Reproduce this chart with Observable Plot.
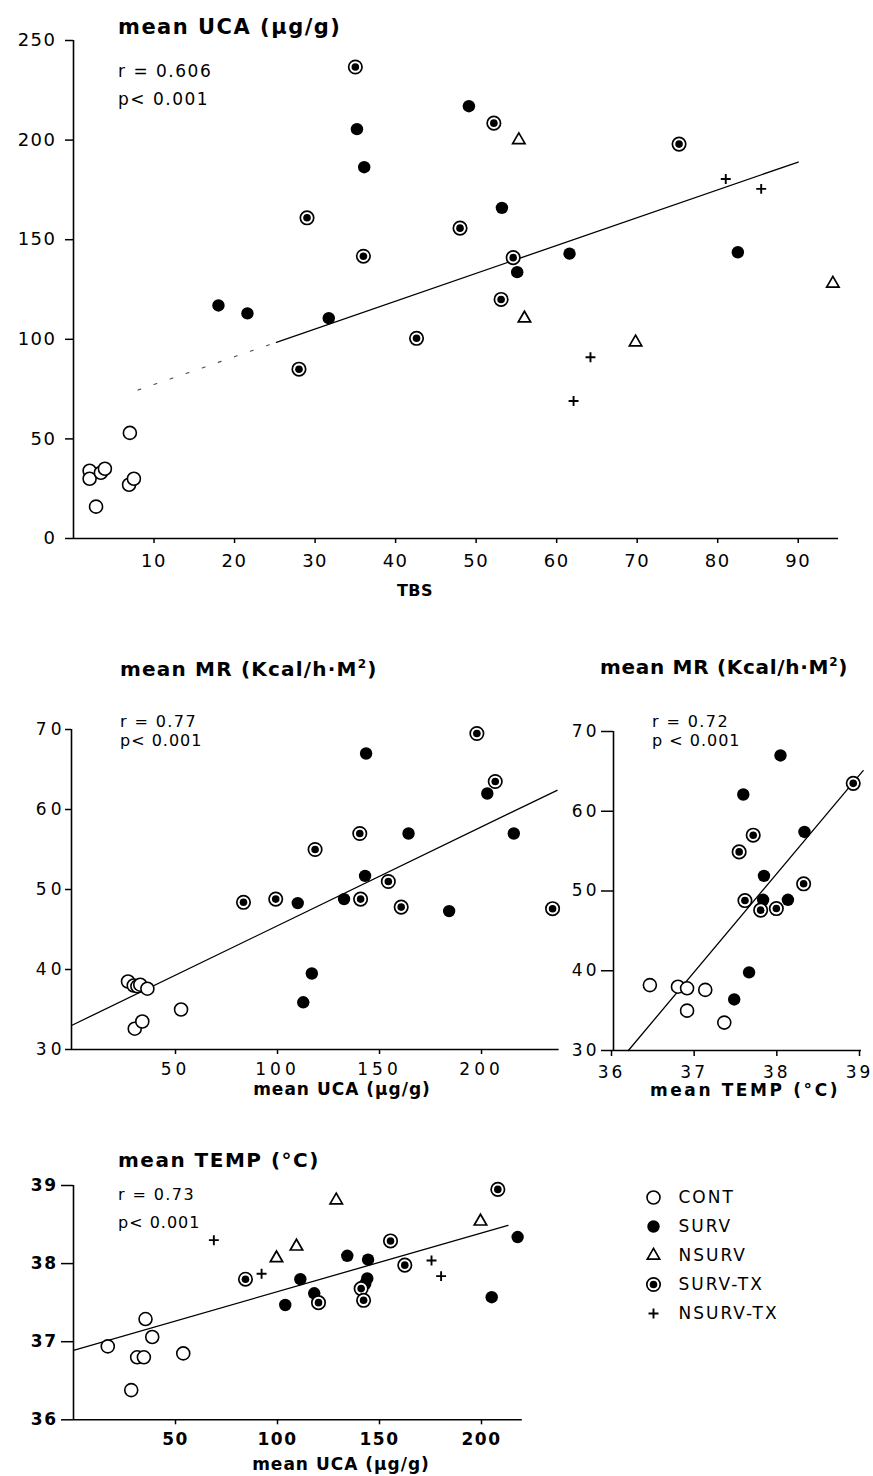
<!DOCTYPE html>
<html><head><meta charset="utf-8">
<script src="https://cdn.jsdelivr.net/npm/d3@7"></script>
<script src="https://cdn.jsdelivr.net/npm/@observablehq/plot@0.6"></script>
<style>
body{margin:0;background:#fff;}
#root{position:relative;width:873px;height:1476px;overflow:hidden;background:#fff;font-family:"DejaVu Sans",sans-serif;color:#000;}
.t{position:absolute;white-space:nowrap;line-height:1;}
.title{font-weight:bold;}
.sup{font-size:12px;position:relative;top:-8px;}
</style></head><body><div id="root"></div>
<script>
// ---------- data ----------
// Panel 1: x = TBS, y = mean UCA (µg/g)
const tbsUca_CONT   = [[2.0,34],[2.0,30],[2.8,16],[3.4,33],[3.9,35],[7.0,53],[6.9,27],[7.5,30]];
const tbsUca_SURV   = [[18.0,117],[21.6,113],[31.7,110.6],[35.2,205.5],[36.1,186.4],[49.1,217],[53.2,166],[55.1,133.7],[61.6,143],[82.5,143.7]];
const tbsUca_NSURV  = [[55.3,200],[56.0,110.5],[69.8,98.5],[94.3,128]];
const tbsUca_SURVTX = [[35.0,236.7],[29.0,161],[36.0,141.7],[28.0,85],[42.6,100.5],[52.2,208.5],[75.2,198],[48.0,155.8],[54.6,141],[53.1,120]];
const tbsUca_NSURVTX= [[81.0,180.5],[85.4,175.5],[64.2,91],[62.1,69]];
const tbsUca_fitFaint = [[8,74.5],[25.2,98.5]];
const tbsUca_fit      = [[25.2,98.5],[90,189]];
const tbsTicks = [10,20,30,40,50,60,70,80,90];
const ucaTicksTop = [0,50,100,150,200,250];

// Panel 2: x = mean UCA, y = mean MR
const ucaMr_CONT   = [[27.7,38.5],[30.5,38.0],[32.3,37.9],[33.7,38.1],[37.2,37.6],[31.0,32.6],[34.7,33.5],[53.7,35.0]];
const ucaMr_SURV   = [[144.4,67.0],[203.8,62.0],[165.2,57.0],[216.8,57.0],[143.9,51.7],[133.6,48.8],[110.9,48.3],[185.1,47.3],[117.8,39.5],[113.6,35.9]];
const ucaMr_SURVTX = [[198.7,69.5],[207.7,63.5],[141.3,57.0],[119.4,55.0],[155.3,51.0],[84.3,48.4],[100.1,48.8],[141.7,48.8],[161.6,47.8],[235.8,47.6]];
const ucaMr_fit    = [[0,33.0],[238,62.4]];
const ucaTicks = [50,100,150,200];
const mrTicks  = [30,40,50,60,70];

// Panel 3: x = mean TEMP, y = mean MR
const tempMr_CONT   = [[36.44,38.2],[36.78,38.0],[36.89,37.8],[37.11,37.6],[36.89,35.0],[37.34,33.5]];
const tempMr_SURV   = [[38.02,67.0],[37.57,62.1],[38.31,57.4],[37.82,51.9],[37.81,48.9],[38.11,48.9],[37.64,39.8],[37.46,36.4]];
const tempMr_SURVTX = [[38.90,63.5],[37.69,57.0],[37.52,54.9],[38.30,50.9],[37.59,48.8],[37.78,47.6],[37.97,47.8]];
const tempMr_fit    = [[36.18,30],[39.02,65.1]];
const tempTicks = [36,37,38,39];

// Panel 4: x = mean UCA, y = mean TEMP
const ucaTemp_CONT   = [[16.8,36.94],[28.3,36.38],[31.2,36.80],[34.5,36.80],[35.3,37.29],[38.6,37.06],[53.8,36.85]];
const ucaTemp_SURV   = [[103.8,37.47],[111.2,37.80],[118.0,37.62],[134.2,38.10],[144.4,38.05],[144.0,37.81],[143.0,37.74],[205.0,37.57],[217.7,38.34]];
const ucaTemp_NSURV  = [[128.8,38.81],[109.3,38.22],[99.5,38.07],[199.5,38.54]];
const ucaTemp_SURVTX = [[84.3,37.80],[120.1,37.50],[141.0,37.68],[142.2,37.53],[155.4,38.29],[162.4,37.98],[208.0,38.95]];
const ucaTemp_NSURVTX= [[68.8,38.30],[92.2,37.87],[175.5,38.04],[180.2,37.84]];
const ucaTemp_fit    = [[0,36.89],[213,38.49]];
const tempTicksY = [36,37,38,39];

const legendNames = ["CONT","SURV","NSURV","SURV-TX","NSURV-TX"];

// ---------- helpers ----------
const root = document.getElementById("root");
const XY = {x: d => d[0], y: d => d[1]};

function marksFor(type, data, pos) {
  switch (type) {
    case "CONT": return [Plot.dot(data, {...pos, r: 6.5, fill: "white", stroke: "black", strokeWidth: 1.6})];
    case "SURV": return [Plot.dot(data, {...pos, r: 6.2, fill: "black"})];
    case "NSURV": return [Plot.dot(data, {...pos, symbol: "triangle", r: 4.6, fill: "white", stroke: "black", strokeWidth: 1.7})];
    case "SURV-TX": return [
      Plot.dot(data, {...pos, r: 6.7, fill: "white", stroke: "black", strokeWidth: 1.7}),
      Plot.dot(data, {...pos, r: 3.8, fill: "black"})];
    case "NSURV-TX": return [Plot.dot(data, {...pos, symbol: "plus", r: 3.3, fill: "none", stroke: "black", strokeWidth: 1.9})];
  }
  return [];
}

function place(node, left, top) {
  const wrap = document.createElement("div");
  wrap.style.position = "absolute";
  wrap.style.left = left + "px";
  wrap.style.top = top + "px";
  wrap.appendChild(node);
  root.appendChild(wrap);
}

function label(html, left, top, size, opts = {}) {
  const d = document.createElement("div");
  d.className = "t" + (opts.bold ? " title" : "");
  d.style.left = left + "px";
  d.style.top = top + "px";
  d.style.fontSize = size + "px";
  if (opts.spacing != null) d.style.letterSpacing = opts.spacing + "px";
  if (opts.center) { d.style.transform = "translateX(-50%)"; }
  d.innerHTML = html;
  root.appendChild(d);
}

function panel(o) {
  const marks = [
    Plot.ruleX([o.xDomain[0]], {stroke: "black", strokeWidth: 1.6}),
    Plot.ruleY([o.yDomain[0]], {stroke: "black", strokeWidth: 1.6}),
    Plot.axisY({ticks: o.yTicks, tickSize: o.yTickSize, tickPadding: o.yTickPadding, fontSize: o.fontSize,
      fontWeight: o.fontWeight || "normal", strokeWidth: 1.5, label: null, tickFormat: d => String(d)}),
    Plot.axisX({ticks: o.xTicks, tickSize: o.xTickSize, tickPadding: o.xTickPadding, fontSize: o.fontSize,
      fontWeight: o.fontWeight || "normal", strokeWidth: 1.5, label: null, tickFormat: d => String(d),
      dx: o.xDx || 0}),
    ...o.fits,
    ...o.groups.flatMap(([type, data]) => marksFor(type, data, XY))
  ];
  const svg = Plot.plot({
    width: o.width, height: o.height,
    marginLeft: o.m[0], marginRight: o.m[1], marginTop: o.m[2], marginBottom: o.m[3],
    x: {domain: o.xDomain}, y: {domain: o.yDomain},
    style: {background: "transparent", overflow: "visible", fontFamily: "DejaVu Sans, sans-serif",
            letterSpacing: o.spacing + "px", color: "black"},
    marks
  });
  place(svg, o.left, o.top);
}

// ---------- panel 1 ----------
panel({
  left: 0, top: 0, width: 873, height: 610, m: [73, 35, 40, 72],
  xDomain: [0, 95], yDomain: [0, 250], xTicks: tbsTicks, yTicks: ucaTicksTop,
  yTickSize: 8, yTickPadding: 9, xTickSize: 5, xTickPadding: 11, fontSize: 18, spacing: 1.5,
  fits: [
    Plot.line(tbsUca_fitFaint, {...XY, stroke: "black", strokeWidth: 1.1, strokeDasharray: "3,14", strokeOpacity: 0.7}),
    Plot.line(tbsUca_fit, {...XY, stroke: "black", strokeWidth: 1.3})
  ],
  groups: [["CONT", tbsUca_CONT], ["SURV", tbsUca_SURV], ["NSURV", tbsUca_NSURV], ["SURV-TX", tbsUca_SURVTX], ["NSURV-TX", tbsUca_NSURVTX]]
});
label("mean UCA (μg/g)", 118, 17, 21, {bold: true, spacing: 1.5});
label("r = 0.606", 118, 63, 17, {spacing: 1.5});
label("p&lt; 0.001", 118, 91, 17, {spacing: 1.5});
label("TBS", 415, 583, 16, {bold: true, spacing: 0.5, center: true});

// ---------- panel 2 ----------
panel({
  left: 0, top: 700, width: 560, height: 420, m: [71, 1.4, 29, 71],
  xDomain: [0, 239], yDomain: [30, 70], xTicks: ucaTicks, yTicks: mrTicks,
  yTickSize: 6, yTickPadding: 0, xTickSize: 5, xTickPadding: 8, fontSize: 17, spacing: 4, xDx: 2,
  fits: [Plot.line(ucaMr_fit, {...XY, stroke: "black", strokeWidth: 1.3})],
  groups: [["CONT", ucaMr_CONT], ["SURV", ucaMr_SURV], ["SURV-TX", ucaMr_SURVTX]]
});
label("mean MR (Kcal/h·M<span class='sup'>2</span>)", 120, 659, 20, {bold: true, spacing: 1.2});
label("r = 0.77", 120, 714, 16, {spacing: 1.4});
label("p&lt; 0.001", 120, 733, 16, {spacing: 1});
label("mean UCA (μg/g)", 342, 1081, 17, {bold: true, spacing: 1, center: true});

// ---------- panel 3 ----------
panel({
  left: 560, top: 700, width: 313, height: 420, m: [53, 12, 31, 70],
  xDomain: [36, 39], yDomain: [30, 70], xTicks: tempTicks, yTicks: mrTicks,
  yTickSize: 12, yTickPadding: 2, xTickSize: 6, xTickPadding: 9, fontSize: 17, spacing: 3, xDx: -2,
  fits: [Plot.line(tempMr_fit, {...XY, stroke: "black", strokeWidth: 1.3})],
  groups: [["CONT", tempMr_CONT], ["SURV", tempMr_SURV], ["SURV-TX", tempMr_SURVTX]]
});
label("mean MR (Kcal/h·M<span class='sup'>2</span>)", 600, 657, 20, {bold: true, spacing: 0.7});
label("r = 0.72", 652, 714, 16, {spacing: 1.4});
label("p &lt; 0.001", 652, 733, 16, {spacing: 1});
label("mean TEMP (°C)", 745, 1082, 17, {bold: true, spacing: 2.6, center: true});

// ---------- panel 4 ----------
panel({
  left: 0, top: 1160, width: 560, height: 316, m: [73, 38.2, 25, 56.7],
  xDomain: [0, 220], yDomain: [36, 39], xTicks: ucaTicks, yTicks: tempTicksY,
  yTickSize: 12, yTickPadding: 4, xTickSize: 5, xTickPadding: 8, fontSize: 17, fontWeight: "bold", spacing: 1.5,
  fits: [Plot.line(ucaTemp_fit, {...XY, stroke: "black", strokeWidth: 1.3})],
  groups: [["CONT", ucaTemp_CONT], ["SURV", ucaTemp_SURV], ["NSURV", ucaTemp_NSURV], ["SURV-TX", ucaTemp_SURVTX], ["NSURV-TX", ucaTemp_NSURVTX]]
});
label("mean TEMP (°C)", 118, 1150, 20, {bold: true, spacing: 1.5});
label("r = 0.73", 118, 1187, 16, {spacing: 1.4});
label("p&lt; 0.001", 118, 1215, 16, {spacing: 1});
label("mean UCA (μg/g)", 341, 1456, 17, {bold: true, spacing: 1, center: true});

// ---------- legend ----------
const legendPos = {y: d => d, frameAnchor: "left"};
const legendSvg = Plot.plot({
  width: 250, height: 160, marginLeft: 33, marginRight: 0, marginTop: 25, marginBottom: 16,
  y: {type: "point", domain: legendNames, padding: 0, axis: null},
  style: {background: "transparent", overflow: "visible", fontFamily: "DejaVu Sans, sans-serif", letterSpacing: "2px", color: "black"},
  marks: [
    ...legendNames.flatMap(n => marksFor(n, [n], legendPos)),
    Plot.text(legendNames, {y: d => d, text: d => d, frameAnchor: "left", dx: 25, textAnchor: "start", fontSize: 17, fill: "black"})
  ]
});
place(legendSvg, 620, 1170);
</script></body></html>
